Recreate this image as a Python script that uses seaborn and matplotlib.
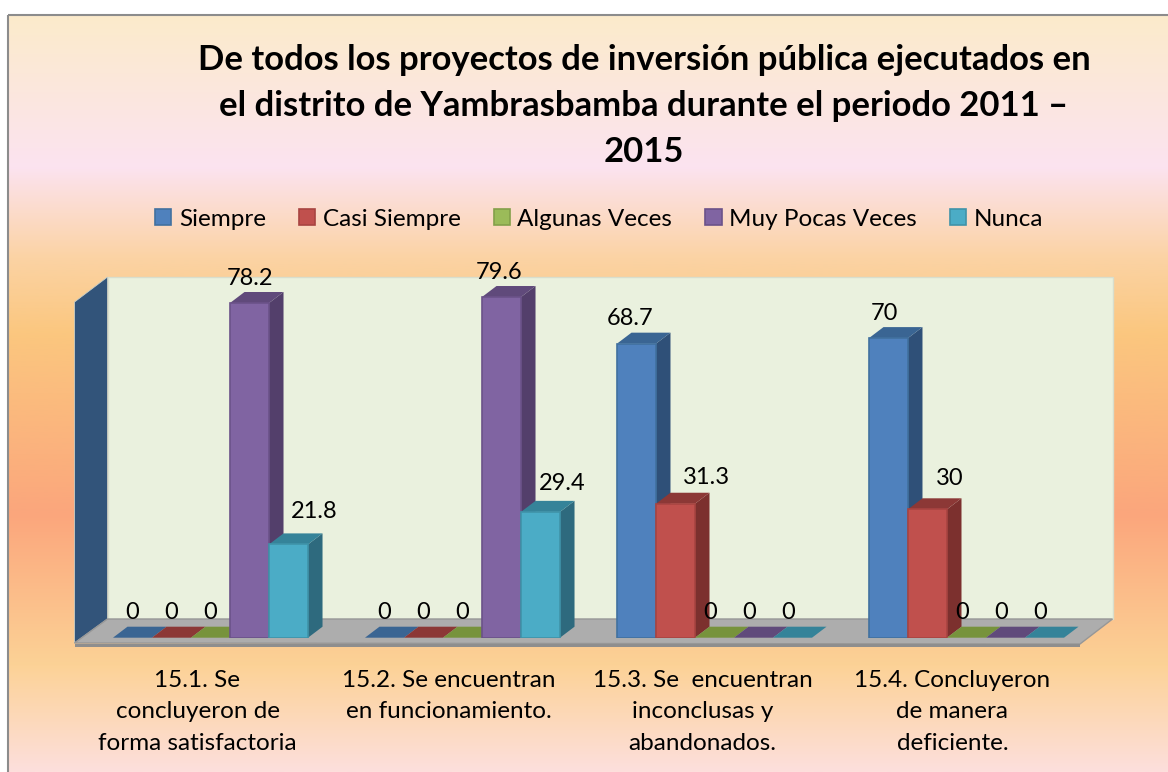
import numpy as np
import pandas as pd
import matplotlib
matplotlib.use("Agg")
import matplotlib.pyplot as plt
import seaborn as sns
from matplotlib.colors import LinearSegmentedColormap
from matplotlib.patches import Polygon, Rectangle
from matplotlib.transforms import ScaledTranslation

# Chart values
categorias = [
    "15.1. Se\nconcluyeron de\nforma satisfactoria",
    "15.2. Se encuentran\nen funcionamiento.",
    "15.3. Se  encuentran\ninconclusas y\nabandonados.",
    "15.4. Concluyeron\nde manera\ndeficiente.",
]
series = ["Siempre", "Casi Siempre", "Algunas Veces", "Muy Pocas Veces", "Nunca"]
siempre = [0, 0, 68.7, 70]
casi_siempre = [0, 0, 31.3, 30]
algunas_veces = [0, 0, 0, 0]
muy_pocas_veces = [78.2, 79.6, 0, 0]
nunca = [21.8, 29.4, 0, 0]
titulo = ("De todos los proyectos de inversión pública ejecutados en\n"
          "el distrito de Yambrasbamba durante el periodo 2011 –\n2015")

# Colours: front, side, top, edge
frente = ["#4F81BD", "#C0504D", "#9BBB59", "#8064A2", "#4BACC6"]
lado = ["#2F5078", "#7C302E", "#5F7A38", "#533F6B", "#2E6A7E"]
tapa = ["#3A6593", "#8C3836", "#77933C", "#604A7B", "#358399"]
borde = ["#41719F", "#A84441", "#83A04A", "#6B5289", "#3F93A9"]

# Hand placed label shifts in pixels (x, y), same order as the bars per series
nudge = {
    "Siempre": [(0, 0), (0, 0), (-6, 0), (-4, 0)],
    "Casi Siempre": [(0, 0), (0, 0), (31, -1), (22, -6)],
    "Algunas Veces": [(0, 0), (0, 0), (-4, 0), (-4, 0)],
    "Muy Pocas Veces": [(0, 0), (-2, 0), (-4, 0), (-4, 0)],
    "Nunca": [(26, -8), (22, -3), (-4, 0), (-4, 0)],
}
tick_nudge = [-13, -14, -12, -14]

W, H = 1168, 772
PX_UNIT = 4.28
GROUP_PX = 252
DX_PX, DY_PX = 14.5, 11
FONT = "Lato"

sns.set_theme(style="white")
plt.rcParams["font.family"] = [FONT, "DejaVu Sans"]

df = pd.DataFrame({
    "categoria": np.repeat(categorias, len(series)),
    "serie": series * len(categorias),
    "valor": np.array([siempre, casi_siempre, algunas_veces, muy_pocas_veces, nunca]).T.ravel(),
})

fig = plt.figure(figsize=(W / 100, H / 100), dpi=100, facecolor="white")

# Background layer in pixel coordinates: gradient, walls and floor
bg = fig.add_axes([0, 0, 1, 1])
bg.axis("off")
cmap = LinearSegmentedColormap.from_list("tarde", [
    (0.0, "#FBEBCB"), (0.20, "#FCE3F0"), (0.32, "#FBD3A4"), (0.42, "#FBC77F"),
    (0.66, "#FBA67C"), (0.86, "#FCD296"), (1.0, "#FDDFDC"),
])
bg.imshow(np.linspace(0, 1, 256)[:, None], cmap=cmap, aspect="auto",
          extent=(8, W, H, 15), zorder=0)
bg.set_xlim(0, W)
bg.set_ylim(H, 0)
bg.add_patch(Rectangle((8, 15), W + 10, H, fill=False, ec="#8C8C8C", lw=1.5, zorder=1))
bg.add_patch(Rectangle((107.5, 277), 1005, 342, fc="#EAF1DE", ec="#D8DECD", lw=1, zorder=1))
bg.add_patch(Polygon([(74.5, 302), (107.5, 277), (107.5, 619), (74.5, 643)],
                     fc="#32547A", ec="#C9CFC6", lw=0.6, zorder=2))
bg.add_patch(Polygon([(74.5, 643), (107.5, 619), (1112.5, 619), (1080, 644)],
                     fc="#ADADAD", ec="#979797", lw=1, zorder=2))
bg.add_patch(Rectangle((74.5, 643.5), 1005.5, 3, fc="#8E8E8E", ec="none", zorder=2))

# Bars axes
ax_left = 84.5
ax_bottom = 637.7
ax_height = 360
ax = fig.add_axes([ax_left / W, (H - ax_bottom) / H, GROUP_PX * 4 / W, ax_height / H])
ax.patch.set_alpha(0)
sns.barplot(data=df, x="categoria", y="valor", hue="serie", hue_order=series,
            palette=frente, saturation=1, width=0.774, gap=0, ax=ax)
ax.set_ylim(0, ax_height / PX_UNIT)
ax.set_xlim(-0.5, 3.5)
ax.set_xlabel("")
ax.set_ylabel("")
ax.set_yticks([])
sns.despine(ax=ax, left=True, bottom=True)
ax.tick_params(axis="x", length=0, pad=23, labelsize=17.5, labelcolor="black")
for label, shift in zip(ax.get_xticklabels(), tick_nudge):
    label.set_linespacing(1.62)
    label.set_transform(label.get_transform() + ScaledTranslation(shift / 100, 0, fig.dpi_scale_trans))

# 3D faces taken from the bars themselves
dx = DX_PX / GROUP_PX
dy = DY_PX / PX_UNIT
barras = []
for s, cont in enumerate(ax.containers):
    for c, bar in enumerate(cont):
        barras.append((bar.get_x(), s, c, bar))
barras.sort(key=lambda b: b[0])
for z, (x0, s, c, bar) in enumerate(barras):
    x1 = x0 + bar.get_width()
    h = bar.get_height()
    zorder = 3 + z * 0.01
    bar.set_zorder(zorder + 0.005)
    bar.set_edgecolor(borde[s])
    bar.set_linewidth(1.2 if h > 0 else 0)
    if h > 0:
        ax.add_patch(Polygon([(x1, 0), (x1 + dx, dy), (x1 + dx, h + dy), (x1, h)],
                             fc=lado[s], ec="none", clip_on=False, zorder=zorder))
    ax.add_patch(Polygon([(x0, h), (x0 + dx, h + dy), (x1 + dx, h + dy), (x1, h)],
                         fc=tapa[s], ec="none", clip_on=False, zorder=zorder))
    px, py = nudge[series[s]][c]
    ax.annotate(f"{h:g}", (x0 + bar.get_width() / 2, h), xytext=(px * 0.72, (25 - py) * 0.72),
                textcoords="offset points", ha="center", va="center",
                fontsize=17, color="black", zorder=10, annotation_clip=False)

# Legend
sns.move_legend(ax, "center", bbox_to_anchor=(0.5105, (H - 219 - (H - ax_bottom)) / ax_height),
                ncols=5, frameon=False, title=None, fontsize=17.5, handlelength=0.68,
                handleheight=0.68, handletextpad=0.3, columnspacing=1.36, labelcolor="black")
for handle, color in zip(ax.get_legend().get_patches(), borde):
    handle.set_edgecolor(color)
    handle.set_linewidth(1.2)

# Title
bg.text(644, 106, titulo, ha="center", va="center", fontsize=24.9, fontweight="bold",
        color="black", linespacing=1.55, zorder=5)

fig.savefig("out.png", dpi=100)
